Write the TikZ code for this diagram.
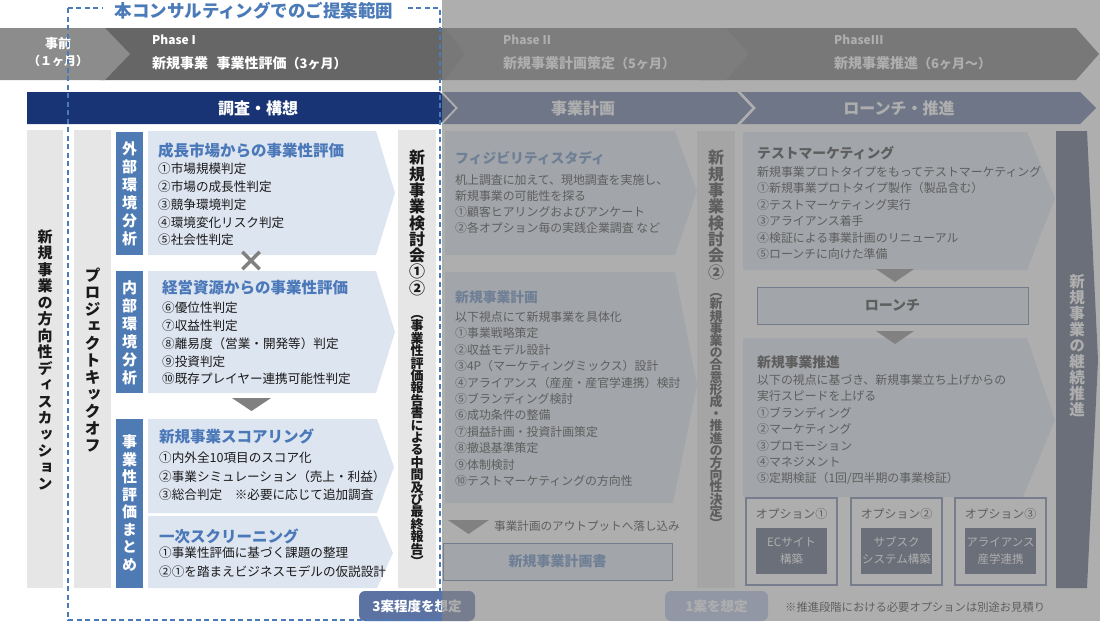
\documentclass[tikz,border=0pt]{standalone}
\usepackage{fontspec}
\setmainfont{Noto Sans CJK JP}
\newfontfamily\tatefont{Noto Sans CJK JP}[RawFeature=+vert]

\definecolor{navy}{RGB}{24,52,117}
\definecolor{labelblue}{RGB}{79,123,181}
\definecolor{headblue}{RGB}{74,120,184}
\definecolor{paleblue}{RGB}{221,229,241}
\definecolor{colgray}{RGB}{230,230,230}
\definecolor{phasegray}{RGB}{102,102,102}
\definecolor{pregray}{RGB}{140,140,140}
\definecolor{markgray}{RGB}{128,128,128}
\definecolor{dashblue}{RGB}{74,122,184}
\definecolor{planblue}{RGB}{72,95,143}
\definecolor{slate}{RGB}{65,74,106}
\definecolor{optline}{RGB}{100,115,160}
\definecolor{tagblue}{RGB}{91,114,163}
\definecolor{taglight}{RGB}{176,191,230}
\definecolor{txt}{RGB}{26,26,26}
\definecolor{veil}{RGB}{131,131,131}

% vertical text, one character per line
\newcommand\tate[2]{\vbox{\baselineskip=#1\lineskiplimit=-100pt\lineskip=0pt\tateloop#2\relax}}
\def\tateloop#1{\ifx\relax#1\else\hbox to 1em{\hss#1\hss}\expandafter\tateloop\fi}
\newcommand\tatesize[1]{\tatefont\bfseries\fontsize{#1}{#1}\selectfont}

\tikzset{
  item/.style={anchor=west, inner sep=0pt, text=txt, font=\fontsize{12.6}{14}\selectfont},
  rightitem/.style={item, font=\fontsize{11.9}{14}\selectfont},
  heading/.style={anchor=west, inner sep=0pt, text=headblue, font=\fontsize{15.5}{18}\selectfont\bfseries},
  subheading/.style={heading, font=\fontsize{13.8}{16}\selectfont\bfseries},
  tatetext/.style={inner sep=0pt, text=txt},
  phasename/.style={anchor=west, inner sep=0pt, text=white, font=\fontsize{12}{14}\selectfont\bfseries},
  phasetitle/.style={anchor=west, inner sep=0pt, text=white, font=\fontsize{14}{16}\selectfont\bfseries},
  bartext/.style={text=white, font=\fontsize{16}{18}\selectfont\bfseries},
  tagbox/.style={fill=tagblue, rounded corners=6pt, inner sep=0pt, text=white, font=\fontsize{13.5}{16}\selectfont\bfseries},
  outbox/.style={fill=paleblue, draw=navy!70, line width=1pt, inner sep=0pt, font=\fontsize{14}{16}\selectfont\bfseries},
  optinner/.style={fill=slate, inner sep=0pt, text=white, align=center, font=\fontsize{11.5}{17}\selectfont},
}

\begin{document}
\begin{tikzpicture}[x=1pt, y=-1pt]
\useasboundingbox (0,0) rectangle (1100,625);

% phases
\fill[phasegray] (700,28) -- (1076,28) -- (1099,54) -- (1076,80) -- (700,80) -- cycle;
\fill[phasegray!92!white] (445,28) -- (726,28) -- (749,54) -- (726,80) -- (445,80) -- cycle;
\fill[phasegray] (100,28) -- (445,28) -- (465,54) -- (445,80) -- (100,80) -- cycle;
\fill[pregray] (0,28) -- (105,28) -- (130,54) -- (105,80) -- (0,80) -- cycle;
\node[text=white, font=\fontsize{13}{15}\selectfont\bfseries] (pre) at (58,44) {事前};
\node[text=white, font=\fontsize{12}{14}\selectfont\bfseries] (premonth) at (58,61) {（１ヶ月）};
\node[phasename] (p1) at (152,40) {Phase I};
\node[phasetitle] (p1t) at (152,63) {新規事業\hspace{0.6em}事業性評価{\fontsize{13}{14}\selectfont（3ヶ月）}};
\node[phasename] (p2) at (503,40) {Phase II};
\node[phasetitle] (p2t) at (503,63) {新規事業計画策定{\fontsize{13}{14}\selectfont（5ヶ月）}};
\node[phasename] (p3) at (834,40) {PhaseIII};
\node[phasetitle] (p3t) at (834,63) {新規事業推進{\fontsize{13}{14}\selectfont（6ヶ月～）}};

% bars
\fill[navy] (27,92) -- (440,92) -- (455,108) -- (440,124) -- (27,124) -- cycle;
\fill[planblue] (443,92) -- (737,92) -- (752,108) -- (737,124) -- (443,124) -- (458,108) -- cycle;
\fill[planblue] (741,92) -- (1080,92) -- (1096,108) -- (1080,124) -- (741,124) -- (756,108) -- cycle;
\node[bartext] (survey) at (258,108) {調査・構想};
\node[bartext] (plan) at (583,108) {事業計画};
\node[bartext] (launchbar) at (899,108) {ローンチ・推進};

% left columns
\fill[colgray] (27,130) rectangle (63,588);
\node[tatetext, font=\tatesize{15}] (talk) at (45,360) {\tate{16.5pt}{新規事業の方向性ディスカッション}};
\fill[colgray] (74,130) rectangle (111,588);
\node[tatetext, font=\tatesize{16}] (kickoff) at (92.5,360) {\tate{17pt}{プロジェクトキックオフ}};

\fill[labelblue] (116,132) rectangle (143,255);
\node[tatetext, text=white, font=\tatesize{15}] (outer) at (129.5,194) {\tate{18pt}{外部環境分析}};
\fill[labelblue] (116,271) rectangle (143,393);
\node[tatetext, text=white, font=\tatesize{15}] (inner) at (129.5,333) {\tate{18pt}{内部環境分析}};
\fill[labelblue] (116,419) rectangle (143,588);
\node[tatetext, text=white, font=\tatesize{15}] (summary) at (129.5,503) {\tate{17.5pt}{事業性評価まとめ}};

% evaluation boxes
\fill[paleblue] (148,131) -- (376,131) -- (395,193) -- (376,255) -- (148,255) -- cycle;
\node[heading] (growth) at (158,151) {成長市場からの事業性評価};
\foreach \entry [count=\i from 0] in {①市場規模判定,②市場の成長性判定,③競争環境判定,④環境変化リスク判定,⑤社会性判定}
  \node[item] (ga\i) at (158,169+17.8*\i) {\entry};
\node[text=markgray, font=\fontsize{30}{30}\selectfont\bfseries] (cross) at (251,262) {×};
\fill[paleblue] (148,271) -- (376,271) -- (395,332) -- (376,393) -- (148,393) -- cycle;
\node[heading] (resource) at (162,288) {経営資源からの事業性評価};
\foreach \entry [count=\i from 0] in {⑥優位性判定,⑦収益性判定,⑧離易度（営業・開発等）判定,⑨投資判定,⑩既存プレイヤー連携可能性判定}
  \node[item] (gb\i) at (162,308+17.8*\i) {\entry};
\fill[markgray] (232,398) -- (271,398) -- (251.5,411) -- cycle;
\fill[paleblue] (148,419) -- (377,419) -- (394,467) -- (377,513) -- (148,513) -- cycle;
\node[heading] (scoring) at (159,436) {新規事業スコアリング};
\foreach \entry [count=\i from 0] in {①内外全10項目のスコア化,②事業シミュレーション（売上・利益）,③総合判定　※必要に応じて追加調査}
  \node[item] (gc\i) at (159,458+18.5*\i) {\entry};
\fill[paleblue] (148,516) -- (377,516) -- (393,553) -- (377,588) -- (148,588) -- cycle;
\node[heading] (screening) at (159,536) {一次スクリーニング};
\foreach \entry [count=\i from 0] in {①事業性評価に基づく課題の整理,②①を踏まえビジネスモデルの仮説設計}
  \node[item] (gd\i) at (159,553+19*\i) {\entry};

% review meeting 1
\fill[colgray] (398,130) rectangle (436,588);
\node[tatetext, font=\tatesize{16}] (review1) at (417,223) {\tate{16.3pt}{新規事業検討会①②}};
\node[tatetext, font=\tatesize{13}] (review1note) at (417,441) {\tate{12.4pt}{（事業性評価報告書による中間及び最終報告）}};
\node[tagbox, minimum width=116pt, minimum height=30pt] (three) at (417,606) {3案程度を想定};

% business plan
\fill[paleblue] (445,131) -- (675,131) -- (697,191) -- (675,255) -- (445,255) -- cycle;
\node[subheading] (feas) at (455,158) {フィジビリティスタディ};
\foreach \entry [count=\i from 0] in {机上調査に加えて、現地調査を実施し、,新規事業の可能性を探る,①顧客ヒアリングおよびアンケート,②各オプション毎の実践企業調査 など}
  \node[rightitem] (fa\i) at (455,180+16*\i) {\entry};
\fill[paleblue] (445,272) -- (675,272) -- (697,385) -- (673,503) -- (445,503) -- cycle;
\node[subheading] (bizplan) at (455,297) {新規事業計画};
\foreach \entry [count=\i from 0] in {以下視点にて新規事業を具体化,①事業戦略策定,②収益モデル設計,③4P（マーケティングミックス）設計,④アライアンス（産産・産官学連携）検討,⑤ブランディング検討,⑥成功条件の整備,⑦損益計画・投資計画策定,⑧撤退基準策定,⑨体制検討,⑩テストマーケティングの方向性}
  \node[rightitem] (pa\i) at (455,317+16.4*\i) {\entry};
\fill[markgray] (448,520) -- (489,520) -- (468.5,534) -- cycle;
\node[rightitem, font=\fontsize{11.6}{14}\selectfont] (output) at (494,526) {事業計画のアウトプットへ落し込み};
\node[outbox, text=headblue, minimum width=229pt, minimum height=37pt] (planbook) at (557.5,561.5) {新規事業計画書};
\node[tagbox, fill=taglight, minimum width=103pt, minimum height=30pt] (one) at (716.5,606) {1案を想定};

% review meeting 2
\fill[colgray] (697,131) rectangle (735,588);
\node[tatetext, font=\tatesize{16}] (review2) at (716,215) {\tate{16.3pt}{新規事業検討会②}};
\node[tatetext, font=\tatesize{13}] (review2note) at (716,411) {\tate{12.2pt}{（新規事業の合意形成・推進の方向性決定）}};

% launch
\fill[paleblue] (743,132) -- (1027,132) -- (1055,198) -- (1027,270) -- (743,270) -- cycle;
\node[subheading, text=txt] (test) at (757,153) {テストマーケティング};
\foreach \entry [count=\i from 0] in {新規事業プロトタイプをもってテストマーケティング,①新規事業プロトタイプ製作（製品含む）,②テストマーケティング実行,③アライアンス着手,④検証による事業計画のリニューアル,⑤ローンチに向けた準備}
  \node[rightitem] (ta\i) at (757,172+16.4*\i) {\entry};
\fill[markgray] (876,269) -- (914,269) -- (895,282) -- cycle;
\node[outbox, text=txt, minimum width=271pt, minimum height=37pt] (launch) at (892.5,305.5) {ローンチ};
\fill[paleblue] (743,338) -- (1027,338) -- (1055,420) -- (1023,497) -- (743,497) -- cycle;
\fill[markgray] (876,331) -- (914,331) -- (895,344) -- cycle;
\node[subheading, text=txt] (promote) at (757,362) {新規事業推進};
\foreach \entry [count=\i from 0] in {以下の視点に基づき、新規事業立ち上げからの,実行スピードを上げる,①ブランディング,②マーケティング,③プロモーション,④マネジメント,⑤定期検証（1回/四半期の事業検証）}
  \node[rightitem] (pr\i) at (757,380+16.4*\i) {\entry};
\foreach \x/\num/\first/\second in {791.5/①/ECサイト/構築, 896.5/②/サブスク/システム構築, 1000.5/③/アライアンス/産学連携} {
  \draw[optline, line width=1.2pt] (\x-45.5,498) rectangle (\x+45.5,585);
  \node[rightitem, anchor=center] (opt\num) at (\x,514) {オプション\num};
  \node[optinner, minimum width=71pt, minimum height=46pt] (optin\num) at (\x,551) {\first\\\second};
}
\node[rightitem, font=\fontsize{11.3}{14}\selectfont] (estimate) at (785,607) {※推進段階における必要オプションは別途お見積り};

% continuation
\fill[slate] (1056,131) -- (1087,131) -- (1098,360) -- (1087,588) -- (1056,588) -- cycle;
\node[tatetext, text=white, font=\tatesize{15.5}] (continue) at (1077,346) {\tate{16pt}{新規事業の継続推進}};

% proposal scope
\draw[dashblue, line width=1.6pt, dash pattern=on 5pt off 3.5pt] (68,8) rectangle (440,620);
\node[fill=white, inner xsep=12pt, inner ysep=1pt, text=dashblue, font=\fontsize{17.5}{20}\selectfont\bfseries] (scope) at (254,11) {本コンサルティングでのご提案範囲};

\fill[veil, opacity=0.65] (442,0) rectangle (1100,621);
\end{tikzpicture}
\end{document}
